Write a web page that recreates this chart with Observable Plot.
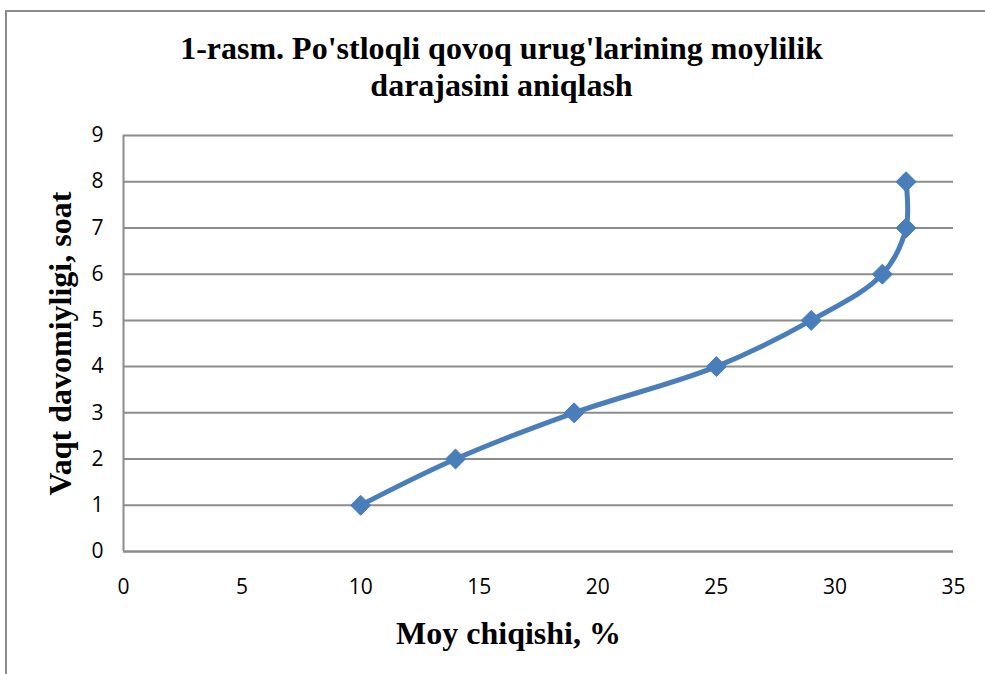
<!DOCTYPE html>
<html>
<head>
<meta charset="utf-8">
<script src="https://cdn.jsdelivr.net/npm/d3@7"></script>
<script src="https://cdn.jsdelivr.net/npm/@observablehq/plot@0.6"></script>
<style>
  html, body { margin: 0; padding: 0; background: #fff; }
  #wrap { position: relative; width: 985px; height: 674px; overflow: hidden; }
  #frame { position: absolute; left: 5px; top: 10px; width: 1000px; height: 700px; border: 2px solid #8c8c8c; box-sizing: border-box; }
  #title { position: absolute; left: 0; top: 30px; width: 1003px; text-align: center; font-family: "Liberation Serif", serif; font-weight: bold; font-size: 32px; line-height: 37px; color: #000; }
  #chart { position: absolute; left: 0; top: 0; }
</style>
</head>
<body>
<div id="wrap">
  <div id="frame"></div>
  <div id="chart"></div>
  <div id="title">1-rasm. Po'stloqli qovoq urug'larining moylilik<br>darajasini aniqlash</div>
</div>
<script>
const oilYield = [10, 14, 19, 25, 29, 32, 33, 33];
const hours = [1, 2, 3, 4, 5, 6, 7, 8];
const xTicks = [0, 5, 10, 15, 20, 25, 30, 35];
const yTicks = [0, 1, 2, 3, 4, 5, 6, 7, 8, 9];
const xLabel = "Moy chiqishi, %";
const yLabel = "Vaqt davomiyligi, soat";

const data = oilYield.map((x, i) => ({x, y: hours[i]}));

const plot = Plot.plot({
  width: 985,
  height: 674,
  marginLeft: 123,
  marginRight: 32,
  marginTop: 135,
  marginBottom: 123,
  style: {background: "transparent", fontFamily: "'Open Sans', sans-serif", fontSize: "21px", color: "#000"},
  x: {domain: [0, 35], ticks: xTicks, label: null},
  y: {domain: [0, 9], ticks: yTicks, label: null},
  marks: [
    Plot.gridY(yTicks, {stroke: "#8c8c8c", strokeOpacity: 1, strokeWidth: 2}),
    Plot.ruleX([0], {stroke: "#8c8c8c", strokeWidth: 2}),
    Plot.ruleY([0], {stroke: "#8c8c8c", strokeWidth: 2}),
    Plot.axisY(yTicks, {tickSize: 0, tickPadding: 20, fontSize: 21, label: null}),
    Plot.axisX(xTicks, {tickSize: 0, tickPadding: 28, fontSize: 21, label: null}),
    Plot.line(data, {x: "x", y: "y", curve: "catmull-rom", stroke: "#4a7ebb", strokeWidth: 5}),
    Plot.dot(data, {x: "x", y: "y", symbol: "diamond2", r: 9, fill: "#4a7ebb", stroke: "#4a7ebb", strokeWidth: 1}),
    Plot.text([xLabel], {frameAnchor: "bottom", dx: -30, dy: 92, text: d => d, fontFamily: "'Liberation Serif', serif", fontWeight: "bold", fontSize: 32, fill: "#000"}),
    Plot.text([yLabel], {frameAnchor: "left", dx: -63, rotate: -90, textAnchor: "middle", text: d => d, fontFamily: "'Liberation Serif', serif", fontWeight: "bold", fontSize: 32, fill: "#000"})
  ]
});
document.getElementById("chart").appendChild(plot);
</script>
</body>
</html>
